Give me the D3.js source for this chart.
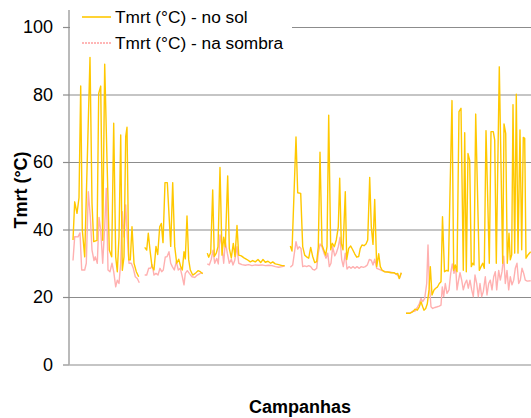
<!DOCTYPE html>
<html>
<head>
<meta charset="utf-8">
<script src="https://cdn.jsdelivr.net/npm/d3@7"></script>
<style>
  body { margin: 0; background: #fff; }
  svg { display: block; font-family: Arial, "Liberation Sans", sans-serif; }
</style>
</head>
<body>
<svg id="chart" width="531" height="418"></svg>
<script>
// Tmrt (°C) per campaign: [sample number, value]; each inner array is one campaign.
const tmrtSol = [
  [[4,36.9],[5.7,48.2],[8,44.8],[10,49.4],[11.7,82.5],[13.3,39.9],[15.7,31.9],[21,91],[23,47.8],[24.7,36.4],
   [28,36.8],[29.7,80.3],[31.7,82.5],[33.7,36.8],[35.7,89],[38,60.6],[40.3,33.9],[42.7,31.9],[44.7,71.5],[46.7,31.9],
   [48.3,27.5],[50,37.8],[51.7,68],[53.3,27.9],[55,31.9],[56.7,67.5],[58,70.3],[59.7,31],[61.3,31],[63,40.8],
   [65,30],[67.3,27.5],[69.7,26]],
  [[75.7,34.7],[77.7,33.9],[79.3,38.9],[81,33.9],[83,29],[85,28],[87,35],[88.7,32.6],[90.7,40.8],[92.3,41.8],
   [94,36.1],[96,53.9],[98.3,53.9],[101.7,35],[103.7,53.9],[105.7,35],[107.7,30],[109.7,31.2],[111.7,29],[113.3,28],
   [115,33.4],[116.3,31.3],[118,44],[119.7,31],[121.3,28],[123.7,26.5],[126.3,27],[129,27.8],[131.3,27.5],[133.7,26.9]],
  [[138.3,33],[139.7,31.8],[141.7,33.2],[143.7,51.7],[145.3,32],[147.3,33],[149,34.9],[151,58.4],[153,32.4],[154.7,37.7],
   [156.3,34.9],[158.7,55.9],[160.3,34.4],[162.3,31.6],[164.3,35.9],[166,32],[168,41.2],[169.7,32.4],[172.3,32.2],[175,31.6],
   [178,31.1],[181.3,30.4],[183.7,30.8],[186.3,30.4],[189,31.1],[191.7,30.2],[194,31.1],[196.3,30.3],[199,30.6],[201.7,30],
   [203.7,30.4],[206.3,29.8],[209.7,29.6],[213,29.3],[215.7,29.3]],
  [[221.3,35.1],[223,33.6],[227,67.4],[228.7,50.9],[231.7,50.7],[233.7,34.9],[235.7,32.4],[238,31.8],[239.7,31.5],[241.7,34.7],
   [243.7,32],[245.7,30.2],[247.7,30.5],[249.3,34.9],[251,62.9],[253,35.4],[254.7,34],[256.7,32.4],[258,34.9],[259.7,73.9],
   [261.7,34],[263.3,35.9],[265.3,34.9],[267.3,36.9],[269.3,40.8],[270.7,55.2],[272.3,35.9],[274,34],[276.3,51.2],[277.7,31.1],
   [279.7,34.4],[281.7,35.1],[283.7,34],[285.7,32.8],[287.7,31.8],[289.7,32],[291.3,34.4],[293,35.4],[295,35.2],[297,35.7],
   [298.7,36.9],[300.7,55.4],[302.3,40.8],[304,35.6],[305.7,48.9],[307.7,29],[309.7,32.8],[311.3,29],[313,28],[315.3,27.5],
   [318.7,27.4],[322,27.2],[325.3,27.2],[327,26.8],[328.7,27],[330.3,25.5],[332.3,27.2]],
  [[337,15.2],[341,15.2],[343.7,15.6],[346,16.4],[348.3,16.1],[350.3,17.1],[352,18.6],[353.7,17.1],[355,16.1],[356.7,16.6],
   [358.3,18],[360,22.1],[361.3,29],[363,20.6],[365,22.1],[366.7,22.6],[368.3,22.9],[370.3,24],[372,24.5],[373.5,43.8],
   [375.5,27.5],[377.7,27.9],[379.3,27.7],[383,78.2],[384.7,27.9],[386.3,29.5],[388,27.5],[390,74.9],[392,75.9],[394.3,27.9],
   [395.7,68.7],[397.3,27.5],[399,62.5],[400.7,60.5],[402.3,29],[403.7,30],[405,29.5],[406.7,74.2],[410.3,27.9],[412,29],
   [413.7,30],[415.3,28.5],[417,69.3],[420.3,30],[422,69],[424.3,69],[425.7,66.5],[427.3,30],[430.3,88.2],[433.7,30],
   [435,71.3],[436.7,68.5],[438.3,30],[440,38.9],[441.3,31],[442.7,32.5],[444,77],[445.7,33],[447.3,80.1],[449,33],
   [451,69.5],[452.7,34],[454.3,67.3],[455.7,67],[457,31.5],[459.3,32.6],[461.7,33.4]]
];

const tmrtSombra = [
  [[4,30.8],[5.7,37.9],[9,37.8],[11,39],[12.7,28],[15.7,28],[17.3,30],[19.3,51.2],[21.3,43.8],[23,33.9],
   [25,30.8],[26.3,31.9],[28.3,30],[30,43.6],[31.7,39.9],[33.7,30],[35.7,40.8],[37.3,52.2],[39,28],[41,27.5],
   [43,30],[44.7,27.5],[46.7,23],[48.3,25],[50,24],[51.7,30],[53.3,45.3],[55,37.8],[56.7,47.3],[58.3,37.8],
   [60,30],[62.3,30],[64.3,28.5],[66.3,26],[68.3,25.5],[70.3,24.2]],
  [[75.7,26.5],[77.7,26.5],[79.7,28.5],[81.7,28.5],[83.3,29.5],[85,26.5],[87,27],[89,26.5],[91,28.5],[92.7,27.5],
   [94.3,28],[96.3,31.9],[98,31.9],[100,33.4],[101.7,30],[103.3,29],[105.3,28],[107.3,30.5],[109.3,28],[111.3,28.5],
   [113.3,26],[115,23.6],[116.3,27],[118.3,27.8],[120.3,27],[123,26],[125.7,25.8],[128.3,26.5],[131.3,27],[133.7,27.2]],
  [[138.3,29.8],[140.3,29.5],[142.3,31.2],[144,33.9],[145.7,30],[147.7,31.4],[149.3,29.8],[151,38.4],[153,34.9],[154.7,30],
   [156.3,36.4],[158.3,33],[160.3,30],[162.3,31.2],[164,29.5],[165.7,30.8],[168,34.9],[169.7,30],[173,29.6],[176.3,29.4],
   [179.7,29.6],[183,29.3],[186.3,29.5],[189.7,29.4],[193,29.5],[196.3,29.3],[199.7,29.4],[203,29.3],[206.3,29],[209.7,28.8],
   [213,29],[215.7,29.2]],
  [[221.3,28.8],[223.7,29.5],[227,36.4],[228.7,34.2],[230.3,34.9],[232,34.4],[233.7,29],[235.7,29.2],[237.7,29],[239.7,29.3],
   [241.7,29],[243.7,28.2],[245.7,28],[247.7,28.5],[249.3,33],[251,35.7],[253,34.9],[255,33],[257,31.5],[258.7,33],
   [260.3,29],[262,30],[263.7,34.9],[265.7,32.2],[267.3,33],[269.3,34.9],[271,37.7],[272.7,31.1],[274.3,29],[276.3,33],
   [278,28.3],[280,29],[282,28.5],[284,29],[286,28.5],[288,29],[290.3,28.5],[292.3,29],[294.3,28.8],[296.3,29],
   [298.3,29.5],[300.3,31.1],[302.3,30.9],[304,29.5],[305.7,31.2],[307.7,28.5],[310.3,28.2],[313,27.8],[316.3,27.5],[320.3,27.4],
   [324.3,27.2],[327,26.8],[328.7,26.5],[330.3,25.5],[332.3,27.2]],
  [[337,15.2],[341,15.2],[343.7,15.8],[346,15.8],[348.3,16.9],[350.3,18],[352,19.6],[353.7,18.6],[355.7,19.6],[357.7,24],
   [359,35.4],[360.3,24],[362,17.1],[363.7,16.6],[366,16.9],[368.3,17.1],[370.3,17.3],[372,17.6],[373.3,23],[374.7,20.1],
   [376.3,24],[378,21.1],[380,22.1],[381.7,27],[383.3,29.8],[385,27],[386.7,29],[388,22.1],[389.3,24.5],[391,27.2],
   [392.7,25],[394.3,22.1],[396,24],[397.7,25],[399.3,22.6],[401,25],[402.7,22.1],[404.3,20.1],[406,26.5],[407.7,24],
   [409.3,20.1],[411,24],[412.7,20.1],[414.3,21.6],[416.3,26],[418,20.6],[419.7,24],[421.3,25],[423,22.1],[424.7,26],
   [426.3,27.5],[427.7,22.1],[429.7,27.9],[431.3,25],[433,27.5],[434.7,32.1],[436.3,24],[438,27.9],[439.7,22.1],[441.3,26],
   [443,23.6],[444.7,25],[446.3,28.5],[448,30],[449.7,24],[451.3,25],[453,28.5],[454.7,27],[456.3,25],[458.3,24.7],
   [461.7,24.8]]
];

const yTicks = [0, 20, 40, 60, 80, 100];
const seriesNames = ["Tmrt (°C) - no sol", "Tmrt (°C) - na sombra"];
const seriesColors = ["#ffc800", "#ffb0b0"];
const xTitle = "Campanhas";
const yTitle = "Tmrt (°C)";

const svg = d3.select("#chart");
const plot = { left: 69, right: 531, top: 27, bottom: 364.5 };

const x = d3.scaleLinear().domain([0, 462]).range([plot.left, plot.right]);
const y = d3.scaleLinear().domain([0, 100]).range([plot.bottom, plot.top]);

// horizontal gridlines
svg.append("g")
  .attr("transform", `translate(${plot.left},0)`)
  .call(d3.axisLeft(y).tickValues(yTicks).tickSize(-(plot.right - plot.left)).tickFormat(""))
  .call(g => g.select(".domain").remove())
  .call(g => g.selectAll("line").attr("stroke", "#8c8c8c").attr("stroke-width", 1.2));

// y axis with ticks and labels
const yAxis = svg.append("g")
  .attr("transform", `translate(${plot.left},0)`)
  .call(d3.axisLeft(y).tickValues(yTicks).tickSize(6).tickPadding(10).tickSizeOuter(0));
yAxis.select(".domain").remove();
yAxis.selectAll("line").attr("stroke", "#8c8c8c").attr("stroke-width", 1.2);
yAxis.selectAll("text").attr("font-size", 18).attr("fill", "#000")
  .attr("font-family", "Arial, 'Liberation Sans', sans-serif");

svg.append("line")
  .attr("x1", plot.left).attr("x2", plot.left)
  .attr("y1", 10).attr("y2", plot.bottom)
  .attr("stroke", "#8c8c8c").attr("stroke-width", 1.2);

// series lines, one path per campaign
const line = d3.line().x(d => x(d[0])).y(d => y(d[1]));

svg.append("g").selectAll("path")
  .data(tmrtSombra).join("path")
  .attr("d", line)
  .attr("fill", "none")
  .attr("stroke", seriesColors[1])
  .attr("stroke-width", 1.4)
  .attr("stroke-linejoin", "round");

svg.append("g").selectAll("path")
  .data(tmrtSol).join("path")
  .attr("d", line)
  .attr("fill", "none")
  .attr("stroke", seriesColors[0])
  .attr("stroke-width", 1.4)
  .attr("stroke-linejoin", "round");

// legend
const legend = svg.append("g");
legend.append("rect")
  .attr("x", plot.left + 1).attr("y", 2)
  .attr("width", 222).attr("height", 52)
  .attr("fill", "#fff");
seriesNames.forEach((name, i) => {
  const ly = 17 + i * 26;
  legend.append("line")
    .attr("x1", 82).attr("x2", 111).attr("y1", ly).attr("y2", ly)
    .attr("stroke", i === 1 ? "#ff9f9f" : seriesColors[i]).attr("stroke-width", 1.6)
    .attr("stroke-dasharray", i === 1 ? "2,1" : null);
  legend.append("text")
    .attr("x", 115).attr("y", ly + 6)
    .attr("font-size", 17.3).attr("fill", "#000")
    .text(name);
});

// axis titles
svg.append("text")
  .attr("transform", `translate(27,190) rotate(-90)`)
  .attr("text-anchor", "middle")
  .attr("font-size", 18).attr("font-weight", "bold")
  .text(yTitle);

svg.append("text")
  .attr("x", 300).attr("y", 413)
  .attr("text-anchor", "middle")
  .attr("font-size", 18).attr("font-weight", "bold")
  .text(xTitle);
</script>
</body>
</html>
